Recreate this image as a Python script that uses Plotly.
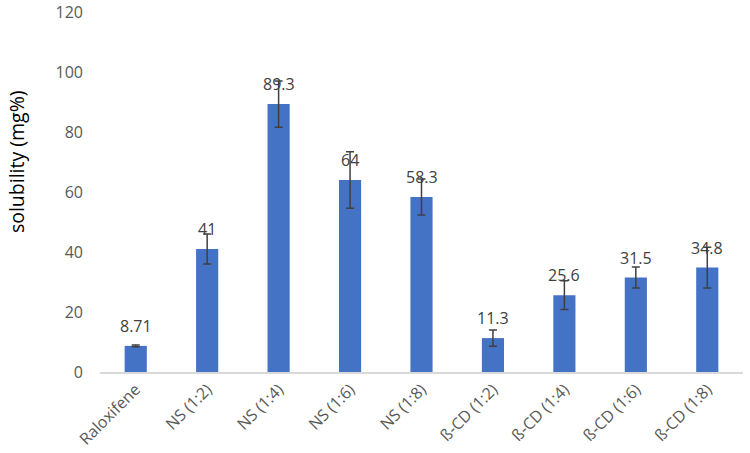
import plotly.graph_objects as go

categories = ["Raloxifene", "NS (1:2)", "NS (1:4)", "NS (1:6)", "NS (1:8)",
              "ß-CD (1:2)", "ß-CD (1:4)", "ß-CD (1:6)", "ß-CD (1:8)"]
values = [8.71, 41, 89.3, 64, 58.3, 11.3, 25.6, 31.5, 34.8]
errors = [0.3, 5.0, 7.7, 9.4, 6.0, 2.7, 4.8, 3.5, 6.8]
labels = ["8.71", "41", "89.3", "64", "58.3", "11.3", "25.6", "31.5", "34.8"]
yticks = [0, 20, 40, 60, 80, 100, 120]
y_title = "solubility (mg%)"

font_family = "Open Sans, Noto Sans, sans-serif"

fig = go.Figure()
fig.add_trace(go.Bar(
    x=categories, y=values,
    marker=dict(color="#4472C4", line=dict(width=0)),
    error_y=dict(type="data", array=errors, visible=True,
                 color="#404040", thickness=1.5, width=4),
    hoverinfo="skip",
))

for c, v, t in zip(categories, values, labels):
    fig.add_annotation(x=c, y=v, text=t, showarrow=False, yshift=20,
                       yanchor="middle",
                       font=dict(family=font_family, size=16, color="#404040"))

fig.add_annotation(xref="paper", yref="paper", x=0, y=0.583, xshift=-84,
                   text=y_title, textangle=-90, showarrow=False,
                   xanchor="center", yanchor="middle",
                   font=dict(family=font_family, size=19.5, color="#000000"))

fig.update_layout(
    width=750, height=453,
    margin=dict(l=100, r=7, t=12, b=81, autoexpand=False),
    paper_bgcolor="white", plot_bgcolor="white",
    bargap=0.69,
    showlegend=False,
    font=dict(family=font_family, color="#595959"),
)
fig.update_xaxes(
    tickangle=-45, showline=True, linecolor="#D9D9D9", linewidth=1.5,
    ticks="", tickfont=dict(family=font_family, size=16, color="#595959"),
    showgrid=False, automargin=False,
)
fig.update_yaxes(
    range=[0, 120], tickvals=yticks, showgrid=False, zeroline=False,
    showline=False, ticks="", ticklabelstandoff=16, automargin=False,
    tickfont=dict(family=font_family, size=16, color="#595959"),
)

fig.write_html("out.html", config={"displayModeBar": False},
               post_script="document.body.style.margin='0px';")
